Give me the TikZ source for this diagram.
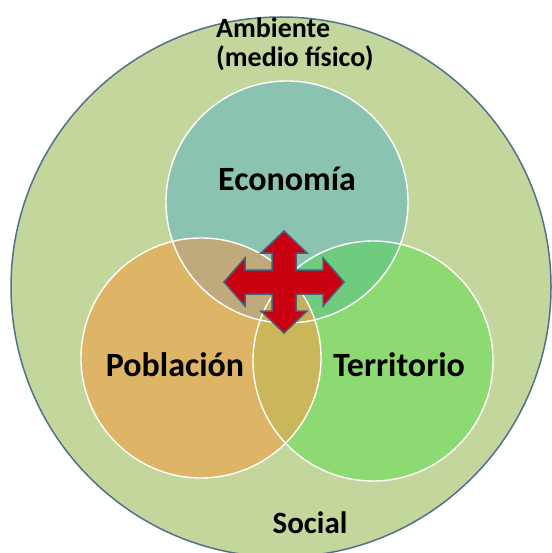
\documentclass[tikz,border=0pt]{standalone}
\usepackage{fontspec}
\setmainfont{Carlito}
\usepackage{tikz}
\usetikzlibrary{positioning}

\definecolor{ambcol}{HTML}{C3D69B}
\definecolor{ambline}{HTML}{52718A}
\definecolor{ecocol}{HTML}{8BC3B1}
\definecolor{pobcol}{HTML}{DEB567}
\definecolor{tercol}{HTML}{8EDA72}
\definecolor{ecopobcol}{HTML}{BFAA7C}
\definecolor{ecotercol}{HTML}{6FCB7E}
\definecolor{pobtercol}{HTML}{C9B759}
\definecolor{triplecol}{HTML}{C6B05A}
\definecolor{cruzcol}{HTML}{C8000F}
\definecolor{cruzline}{HTML}{4E5C7E}

\begin{document}
\begin{tikzpicture}[%
    x=1pt, y=-1pt,
    circulo/.style={circle, inner sep=0pt, outer sep=0pt, minimum size=240pt},
    borde/.style={draw=white, line width=1.4pt},
    grande/.style={font=\bfseries\fontsize{34}{40}\selectfont, inner sep=0pt},
    chica/.style={font=\bfseries\fontsize{28}{32}\selectfont, inner sep=0pt},
    flecha/.style={fill=cruzcol, draw=cruzline, line width=1.5pt, line join=miter},
  ]
    \useasboundingbox (0,0) rectangle (551,553);

    % medio fisico
    \node[circulo, minimum size=540pt, fill=ambcol, draw=ambline, line width=1.5pt] (amb) at (281,287) {};

    % los tres circulos
    \node[circulo, minimum size=242pt, fill=ecocol] (eco) at (287,202) {};
    \node[circulo, fill=pobcol] (pob) at (201,358) {};
    \node[circulo, fill=tercol] (ter) at (373,361) {};

    % intersecciones
    \begin{scope}
      \clip (pob.center) circle[radius=120pt];
      \fill[pobtercol] (ter.center) circle[radius=120pt];
    \end{scope}
    \begin{scope}
      \clip (eco.center) circle[radius=121pt];
      \fill[ecopobcol] (pob.center) circle[radius=120pt];
      \fill[ecotercol] (ter.center) circle[radius=120pt];
      \clip (pob.center) circle[radius=120pt];
      \fill[triplecol] (ter.center) circle[radius=120pt];
    \end{scope}

    \foreach \c/\r in {eco/121,pob/120,ter/120}
      \draw[borde] (\c.center) circle[radius=\r pt];

    % flecha en cruz
    \coordinate (cruz) at (284,282);
    \begin{scope}[shift={(cruz)}]
      \draw[flecha] (0,-51) -- (23,-29) -- (12,-29) -- (12,-12) -- (39,-12)
        -- (39,-24) -- (60,0) -- (39,24) -- (39,12) -- (12,12) -- (12,29)
        -- (23,29) -- (0,51) -- (-23,29) -- (-12,29) -- (-12,12) -- (-39,12)
        -- (-39,24) -- (-60,0) -- (-39,-24) -- (-39,-12) -- (-12,-12)
        -- (-12,-29) -- (-23,-29) -- cycle;
    \end{scope}

    % textos
    \node[grande, anchor=base] (teco) at (287,190) {Economía};
    \node[grande, anchor=base] (tpob) at (175,376) {Población};
    \node[grande, anchor=base] (tter) at (399,376) {Territorio};
    \node[chica, anchor=base west] (tamb) at (216,38) {Ambiente};
    \node[chica, anchor=base west] (tmed) at ([yshift=-29pt]tamb.base west) {(medio físico)};
    \node[chica, font=\bfseries\fontsize{31}{36}\selectfont, anchor=base] (tsoc) at (310,533) {Social};
  \end{tikzpicture}
\end{document}
